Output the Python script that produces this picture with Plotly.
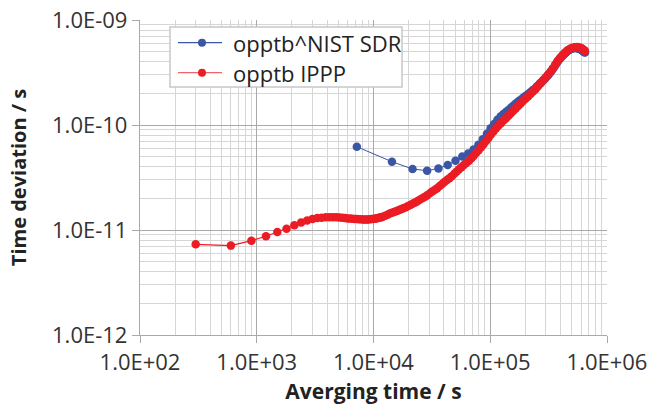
import plotly.graph_objects as go

# Averaging times (s) and time deviation (ps) for the two links
ippp_tau = [
    300, 600, 900, 1200, 1500, 1800, 2100, 2400, 2700, 3000,
    3300, 3600, 3900, 4200, 4500, 4800, 5100, 5400, 5700, 6000,
    6300, 6600, 6900, 7200, 7500, 7800, 8100, 8400, 8700, 9000,
    9300, 9600, 9900, 10200, 10500, 10800, 11100, 11400, 11700, 12000,
    12600, 13200, 13800, 14400, 15000, 15600, 16200, 16800, 17400, 18000,
    18900, 19800, 20700, 21600, 22500, 23400, 24300, 25500, 26700, 27900,
    29100, 30600, 32100, 33600, 35100, 36900, 38700, 40500, 42600, 44700,
    46800, 49200, 51600, 54000, 56700, 59400, 62400, 65400, 68700, 72000,
    75600, 79500, 83400, 87600, 92100, 96600, 101400, 106500, 111900, 117300,
    123300, 129300, 135900, 142800, 149700, 157200, 165300, 173400, 182100, 191100,
    200700, 210900, 221400, 232500, 244200, 256200, 269100, 282600, 296700, 311400,
    327000, 343500, 360600, 378600, 397500, 417300, 438300, 460200, 483300, 507600,
    532800, 559500, 587400, 606000, 624000, 636000, 648000,
]
ippp_tdev_ps = [
    7.31, 7.10, 7.91, 8.71, 9.57, 10.3, 11.1, 11.8, 12.3, 12.7,
    13.0, 13.1, 13.2, 13.25, 13.25, 13.2, 13.15, 13.05, 13.0, 12.9,
    12.85, 12.8, 12.75, 12.7, 12.65, 12.65, 12.6, 12.6, 12.6, 12.6,
    12.65, 12.7, 12.75, 12.8, 12.85, 12.95, 13.05, 13.15, 13.25, 13.4,
    13.65, 14.0, 14.35, 14.6, 14.85, 15.1, 15.35, 15.6, 15.85, 16.1,
    16.5, 16.9, 17.3, 17.75, 18.15, 18.6, 19.1, 19.7, 20.3, 20.9,
    21.6, 22.5, 23.4, 24.2, 25.0, 26.2, 27.4, 28.6, 29.9, 31.1,
    32.5, 34.3, 36.0, 37.8, 39.6, 41.5, 43.5, 45.4, 48.0, 50.8,
    54.0, 57.6, 61.4, 65.6, 70.4, 75.4, 81.0, 86.6, 92.6, 98.5,
    104, 109.5, 115.5, 122, 128.5, 136, 144, 152, 160, 169,
    178, 187, 197, 208, 219, 234, 249, 265, 282, 300,
    320, 345, 375, 408, 437, 463, 490, 514, 532, 545,
    551, 553, 546, 537, 525, 516, 508,
]

nist_tau = [
    7200, 14400, 21600, 28800, 36000, 43200, 50400, 57600, 64800, 72000,
    79200, 86400, 93600, 100800, 108000, 115200, 122400, 129600, 136800, 144000,
    151200, 158400, 165600, 172800, 180000, 187200, 194400, 201600, 208800, 216000,
    223200, 230400, 237600, 244800, 252000, 259200, 266400, 273600, 280800, 288000,
    295200, 302400, 309600, 316800, 324000, 331200, 338400, 345600, 352800, 360000,
    367200, 374400, 381600, 388800, 396000, 403200, 410400, 417600, 424800, 432000,
    439200, 446400, 453600, 460800, 468000, 475200, 482400, 489600, 496800, 504000,
    511200, 518400, 525600, 532800, 540000, 547200, 554400, 561600, 568800, 576000,
    583200, 590400, 597600, 604800, 612000, 619200, 626400, 633600, 640800, 648000,
]
nist_tdev_ps = [
    62.1, 44.7, 38.1, 36.7, 38.6, 41.6, 45.7, 50.0, 53.5, 58.5,
    65, 73, 82.5, 93, 102, 112, 120.5, 127.5, 133.5, 140,
    147, 153.5, 160, 166.5, 172, 178, 184, 189.5, 194, 200.5,
    207, 213, 219, 225, 233.5, 241, 248.5, 255, 263, 270,
    278, 286.5, 295, 304, 313, 323, 333.5, 345.5, 357, 370,
    383, 396, 409, 420, 430.5, 439.5, 449.5, 458, 468, 477,
    486, 494, 502, 509, 515, 521, 526, 530, 534, 537.5,
    538, 540, 542, 543, 541, 541.5, 542, 539, 538, 536,
    530.5, 528.5, 525, 521, 516, 509.5, 503.5, 499, 494, 490,
]

series_names = ["opptb^NIST SDR", "opptb IPPP"]

x_tick_vals = [1e2, 1e3, 1e4, 1e5, 1e6]
x_tick_text = ["1.0E+02", "1.0E+03", "1.0E+04", "1.0E+05", "1.0E+06"]
y_tick_vals = [1e-12, 1e-11, 1e-10, 1e-9]
y_tick_text = ["1.0E-12", "1.0E-11", "1.0E-10", "1.0E-09"]

PS = 1e-12
BLUE = "#3a56a5"
RED = "#ec1c24"
RED_KEY_LINE = "#f0646a"
FONT = "Open Sans"

W, H = 649, 405
ML, MR, MT, MB = 140, 42, 20, 70
PW, PH = W - ML - MR, H - MT - MB


def px_x(px):
    """Pixel column -> paper x."""
    return (px - ML) / PW


def px_y(py):
    """Pixel row -> paper y."""
    return (H - MB - py) / PH


x_minor = [m * 10 ** e for e in range(2, 6) for m in range(2, 10)]
y_minor = [m * 10.0 ** e for e in range(-12, -9) for m in range(2, 10)]

fig = go.Figure()
fig.add_trace(go.Scatter(
    x=nist_tau, y=[v * PS for v in nist_tdev_ps],
    mode="lines+markers", name=series_names[0],
    line=dict(color=BLUE, width=1),
    marker=dict(color=BLUE, size=8.5, line=dict(width=0)),
))
fig.add_trace(go.Scatter(
    x=ippp_tau, y=[v * PS for v in ippp_tdev_ps],
    mode="lines+markers", name=series_names[1],
    line=dict(color=RED, width=1.2),
    marker=dict(color=RED, size=8.5, line=dict(width=0)),
))

axis_common = dict(
    type="log",
    automargin=False,
    showgrid=True, gridcolor="#a9a9a9", gridwidth=1.3,
    showline=True, linecolor="#a9a9a9", linewidth=1.3,
    ticks="outside", ticklen=7, tickcolor="#a9a9a9", tickwidth=1.3,
    tickfont=dict(family=FONT, size=22, color="#333333"),
    zeroline=False,
)

fig.update_xaxes(
    **axis_common,
    range=[2, 6],
    tickvals=x_tick_vals, ticktext=x_tick_text,
    minor=dict(tickvals=x_minor, showgrid=True, gridcolor="#d6d6d6",
               gridwidth=1, ticks=""),
    title=dict(text="<b>Averging time / s</b>", standoff=10,
               font=dict(family=FONT, size=21, color="#222222")),
)
fig.update_yaxes(
    **axis_common,
    range=[-12, -9],
    tickvals=y_tick_vals, ticktext=y_tick_text,
    minor=dict(tickvals=y_minor, showgrid=True, gridcolor="#d6d6d6",
               gridwidth=1, ticks=""),
    title=dict(text="<b>Time deviation / s</b>", standoff=20,
               font=dict(family=FONT, size=20, color="#222222")),
)

# Legend box drawn as shapes and annotations
shapes = [dict(
    type="rect", xref="paper", yref="paper",
    x0=px_x(170), x1=px_x(402), y0=px_y(87), y1=px_y(27),
    fillcolor="white", line=dict(color="#c8c8c8", width=1.5), layer="above",
)]
annotations = []
key_rows = [(42.7, BLUE, BLUE), (72.7, RED_KEY_LINE, RED)]
for name, (row_y, line_col, dot_col) in zip(series_names, key_rows):
    shapes.append(dict(
        type="line", xref="paper", yref="paper",
        x0=px_x(178), x1=px_x(222), y0=px_y(row_y), y1=px_y(row_y),
        line=dict(color=line_col, width=1.3), layer="above",
    ))
    shapes.append(dict(
        type="circle", xref="paper", yref="paper",
        x0=px_x(198), x1=px_x(206), y0=px_y(row_y + 4), y1=px_y(row_y - 4),
        fillcolor=dot_col, line=dict(width=0), layer="above",
    ))
    annotations.append(dict(
        xref="paper", yref="paper", x=px_x(231), y=px_y(row_y),
        xanchor="left", yanchor="middle", showarrow=False,
        text=name, font=dict(family=FONT, size=22, color="#222222"),
    ))

fig.update_layout(
    width=W, height=H,
    margin=dict(l=ML, r=MR, t=MT, b=MB, autoexpand=False),
    paper_bgcolor="white", plot_bgcolor="white",
    showlegend=False,
    shapes=shapes,
    annotations=annotations,
)

fig.write_html("out.html")
